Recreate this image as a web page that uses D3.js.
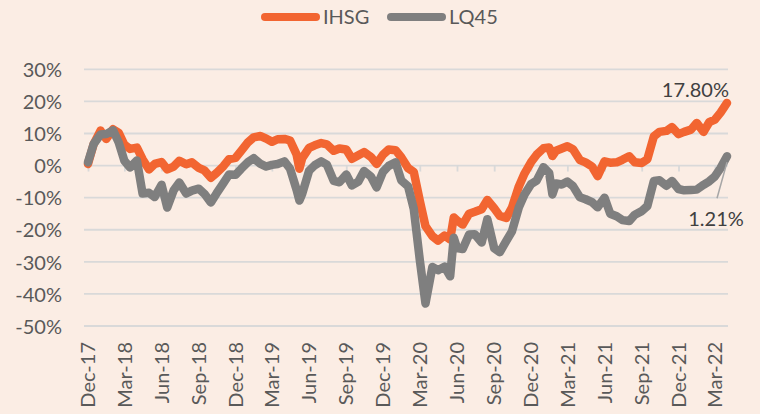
<!DOCTYPE html>
<html><head><meta charset="utf-8">
<script src="https://cdn.jsdelivr.net/npm/d3@7"></script>
<style>
html,body{margin:0;padding:0;background:#fbede4;}
svg{display:block;font-family:Lato,"Open Sans",sans-serif;}
</style></head>
<body><svg id="chart" width="760" height="414"></svg>
<script>
const dates = [
"2017-12-01","2017-12-15","2018-01-01","2018-01-15","2018-02-01","2018-02-15","2018-03-01","2018-03-15",
"2018-04-01","2018-04-15","2018-05-01","2018-05-15","2018-06-01","2018-06-15","2018-07-01","2018-07-15",
"2018-08-01","2018-08-15","2018-09-01","2018-09-15","2018-10-01","2018-10-15","2018-11-01","2018-11-15",
"2018-12-01","2018-12-15","2019-01-01","2019-01-15","2019-02-01","2019-02-15","2019-03-01","2019-03-15",
"2019-04-01","2019-04-15","2019-05-01","2019-05-08","2019-05-15","2019-06-01","2019-06-15","2019-07-01",
"2019-07-15","2019-08-01","2019-08-15","2019-09-01","2019-09-15","2019-10-01","2019-10-15","2019-11-01",
"2019-11-15","2019-12-01","2019-12-15","2020-01-01","2020-01-15","2020-02-01","2020-02-15","2020-03-01",
"2020-03-15","2020-04-01","2020-04-15","2020-05-01","2020-05-15","2020-05-24","2020-06-01","2020-06-15",
"2020-07-01","2020-07-15","2020-08-01","2020-08-15","2020-09-01","2020-09-15","2020-10-01","2020-10-15",
"2020-11-01","2020-11-15","2020-12-01","2020-12-15","2021-01-01","2021-01-15","2021-01-23","2021-02-01",
"2021-02-15","2021-03-01","2021-03-15","2021-04-01","2021-04-15","2021-05-01","2021-05-15","2021-06-01",
"2021-06-15","2021-07-01","2021-07-15","2021-08-01","2021-08-15","2021-09-01","2021-09-15","2021-10-01",
"2021-10-15","2021-11-01","2021-11-15","2021-12-01","2021-12-15","2022-01-01","2022-01-15","2022-02-01",
"2022-02-15","2022-03-01","2022-03-15","2022-03-31"
];
const ihsg = [
0.5,6.7,10.9,8.3,11.3,10.2,6.5,5.2,
5.6,2.0,-1.2,0.5,1.1,-1.2,-0.3,1.5,
0.4,1.0,-0.7,-1.5,-3.8,-2.3,-0.2,2.0,
2.4,4.6,7.3,8.8,9.2,8.4,7.4,8.2,
8.3,7.8,3.5,-1.0,2.3,5.5,6.3,7.0,
6.6,4.6,5.3,5.0,2.1,3.2,4.2,2.7,
0.5,3.4,5.0,4.8,2.6,-0.8,-2.0,-11.0,
-18.9,-22.0,-23.4,-21.8,-23.0,-16.2,-17.1,-18.4,
-15.0,-14.4,-13.6,-10.7,-13.3,-15.7,-16.3,-13.1,
-6.5,-2.5,1.0,3.4,5.4,5.6,3.0,4.6,
5.3,6.0,5.1,1.7,1.0,-0.3,-3.3,1.3,
0.9,1.0,1.8,2.9,1.0,0.8,2.0,9.1,
10.5,10.8,12.0,9.8,10.5,11.2,13.3,10.5,
13.5,14.3,16.5,19.5
];
const lq45 = [
1.0,6.7,9.7,9.8,11.0,7.2,1.5,-0.6,
1.6,-8.7,-8.5,-9.8,-6.0,-13.1,-7.7,-5.3,
-8.7,-7.8,-7.2,-8.8,-11.5,-8.7,-5.5,-2.8,
-2.9,-1.0,1.1,2.3,0.5,-0.3,0.2,0.5,
1.3,-1.0,-7.5,-10.9,-8.8,-1.6,0.1,1.3,
0.3,-4.8,-5.2,-2.8,-6.2,-5.0,-1.7,-3.4,
-6.8,-1.9,-0.1,1.0,-4.6,-6.5,-13.5,-29.5,
-43.0,-31.6,-32.6,-31.5,-34.5,-22.5,-25.7,-26.0,
-21.5,-21.4,-24.0,-16.7,-25.8,-27.0,-23.5,-20.5,
-13.0,-9.0,-5.8,-4.7,-0.5,-2.3,-9.0,-5.6,
-5.9,-5.0,-6.4,-9.9,-10.5,-11.4,-13.0,-10.0,
-15.0,-15.8,-17.0,-17.3,-15.3,-14.2,-12.6,-4.8,
-4.6,-6.3,-4.8,-7.3,-7.7,-7.6,-7.5,-6.0,
-4.9,-3.4,-0.8,2.9
];
const seriesNames = ["IHSG", "LQ45"];
const seriesColors = ["#f26531", "#7f7f7f"];
const endLabels = ["17.80%", "1.21%"];
const yTicks = [-50, -40, -30, -20, -10, 0, 10, 20, 30];
const xTicks = ["2017-12-01","2018-03-01","2018-06-01","2018-09-01","2018-12-01","2019-03-01",
"2019-06-01","2019-09-01","2019-12-01","2020-03-01","2020-06-01","2020-09-01","2020-12-01",
"2021-03-01","2021-06-01","2021-09-01","2021-12-01","2022-03-01"];

const parse = d3.utcParse("%Y-%m-%d");
const fmt = d3.utcFormat("%b-%y");
const dts = dates.map(parse);
const tickDates = xTicks.map(parse);

const svg = d3.select("#chart");
const plotL = 84, plotR = 728, plotT = 69.3, plotB = 326;

const x = d3.scaleUtc().domain([dts[0], dts[dts.length - 1]]).range([88, 727]);
const y = d3.scaleLinear().domain([-50, 30]).range([plotB, plotT]);

const gridCol = "#d9d9d9";
const textCol = "#595959";

// gridlines
svg.append("g").selectAll("line").data(yTicks).join("line")
  .attr("x1", plotL).attr("x2", plotR)
  .attr("y1", d => y(d)).attr("y2", d => y(d))
  .attr("stroke", gridCol).attr("stroke-width", 1.8);

// y axis labels
const yAxis = d3.axisLeft(y).tickValues(yTicks).tickSize(0).tickPadding(0)
  .tickFormat(d => d + "%");
const gy = svg.append("g").attr("transform", "translate(62,0)").call(yAxis);
gy.select(".domain").remove();
gy.selectAll("text").attr("fill", textCol).style("font-size", "20px")
  .style("font-family", "Lato, 'Open Sans', sans-serif").attr("dy", "0.36em");

// x tick marks on the zero line
const xTickAxis = d3.axisBottom(x).tickValues(tickDates).tickSize(6).tickFormat("");
const gxt = svg.append("g").attr("transform", `translate(0,${y(0)})`).call(xTickAxis);
gxt.select(".domain").remove();
gxt.selectAll("line").attr("stroke", gridCol).attr("stroke-width", 1.8);

// x labels at the bottom, rotated
svg.append("g").selectAll("text").data(tickDates).join("text")
  .attr("transform", d => `translate(${x(d)},342) rotate(-90)`)
  .attr("text-anchor", "end").attr("dy", "0.36em")
  .attr("fill", textCol).style("font-size", "20px")
  .text(d => fmt(d));

// lines
const allSeries = [ihsg, lq45];
const line = d3.line().x((d, i) => x(dts[i])).y(d => y(d)).curve(d3.curveLinear);
svg.append("g").selectAll("path").data(allSeries).join("path")
  .attr("d", d => line(d))
  .attr("fill", "none")
  .attr("stroke", (d, i) => seriesColors[i])
  .attr("stroke-width", 8.5)
  .attr("stroke-linejoin", "round").attr("stroke-linecap", "round");

// end annotations
const lastX = x(dts[dts.length - 1]);
const lastI = ihsg[ihsg.length - 1], lastL = lq45[lq45.length - 1];
svg.append("text").attr("x", lastX + 2).attr("y", y(lastI) - 6)
  .attr("text-anchor", "end").attr("fill", "#404040").style("font-size", "20px")
  .text(endLabels[0]);
svg.append("line")
  .attr("x1", lastX - 10).attr("y1", y(lastL) + 42)
  .attr("x2", lastX).attr("y2", y(lastL) + 6)
  .attr("stroke", "#a6a6a6").attr("stroke-width", 1.5);
svg.append("text").attr("x", lastX - 11).attr("y", y(lastL) + 70)
  .attr("text-anchor", "middle").attr("fill", "#404040").style("font-size", "20px")
  .text(endLabels[1]);

// legend
const legend = svg.append("g");
const legX = [265, 391];
seriesNames.forEach((n, i) => {
  legend.append("line").attr("x1", legX[i]).attr("x2", legX[i] + 51)
    .attr("y1", 17).attr("y2", 17)
    .attr("stroke", seriesColors[i]).attr("stroke-width", 8).attr("stroke-linecap", "round");
  legend.append("text").attr("x", legX[i] + 58).attr("y", 17).attr("dy", "0.36em")
    .attr("fill", textCol).style("font-size", "20px").text(n);
});
</script>
</body></html>
